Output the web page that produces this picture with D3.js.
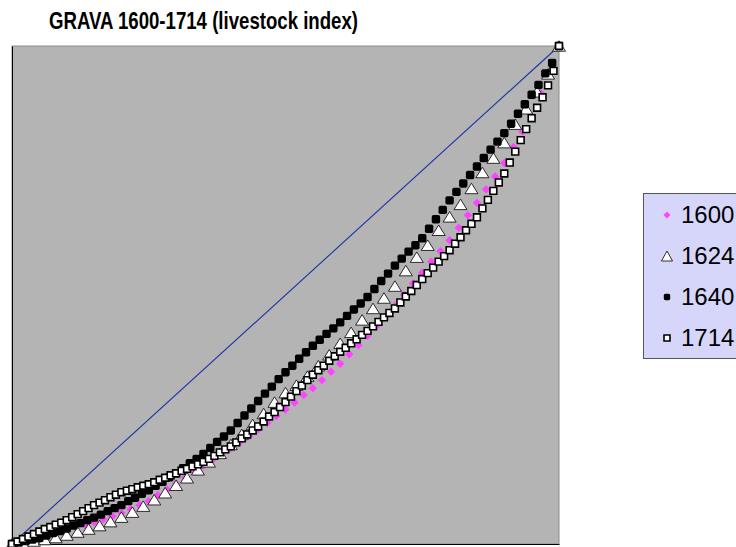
<!DOCTYPE html>
<html>
<head>
<meta charset="utf-8">
<script src="https://cdn.jsdelivr.net/npm/d3@7"></script>
<style>
  body { margin: 0; background: #fff; }
  svg { display: block; }
</style>
</head>
<body>
<div id="chart"></div>
<script>
// cumulative livestock share per cumulative household share (Lorenz curves)
var years = ["1600", "1624", "1640", "1714"];
var share1600 = [0, .004, .008, .012, .017, .022, .027, .033, .038, .044, .050, .056, .062, .070, .078, .086,
    .098, .109, .121, .133, .145, .157, .169, .180, .192, .205, .217, .230, .243, .257, .270, .284, .299,
    .313, .329, .346, .362, .381, .399, .418, .438, .458, .478, .500, .523, .545, .567, .588, .610, .635,
    .660, .685, .712, .738, .765, .797, .828, .860, .905, .950, 1];
var share1624 = [0, .003, .006, .009, .013, .018, .024, .030, .037, .045, .054, .064, .076, .089, .103, .118,
    .133, .149, .165, .182, .200, .220, .240, .262, .285, .304, .319, .337, .358, .380, .403, .425, .450,
    .473, .494, .518, .549, .576, .600, .630, .657, .682, .714, .746, .775, .806, .843, .874, .908, .944, 1];
var share1640 = [0, .003, .006, .009, .012, .017, .022, .026, .031, .037, .042, .048, .053, .059, .066, .072,
    .078, .086, .093, .101, .108, .117, .125, .134, .142, .152, .162, .171, .181, .193, .205, .216, .228,
    .243, .258, .272, .287, .302, .316, .331, .345, .358, .372, .385, .398, .410, .422, .433, .445, .458,
    .471, .483, .496, .512, .528, .543, .559, .573, .587, .600, .614, .633, .652, .671, .690, .707, .724,
    .741, .758, .775, .792, .808, .825, .844, .864, .883, .902, .922, .945, .966, 1];
var share1714 = [0, .005, .010, .015, .020, .025, .030, .034, .039, .043, .048, .054, .060, .066, .072, .078,
    .083, .088, .094, .099, .104, .107, .110, .114, .117, .120, .124, .129, .133, .138, .142, .147, .151,
    .156, .160, .165, .171, .177, .184, .190, .196, .204, .212, .220, .228, .236, .246, .256, .265, .275,
    .285, .296, .307, .318, .329, .340, .349, .358, .368, .377, .386, .394, .403, .411, .420, .428, .437,
    .446, .455, .464, .473, .485, .497, .508, .520, .532, .544, .555, .567, .578, .590, .603, .616, .630,
    .643, .656, .674, .691, .709, .726, .744, .766, .788, .811, .833, .855, .876, .897, .921, .950, 1];
var equality = [0, 1];

var width = 736;
var height = 547;
var plot = { left: 12, top: 46, right: 559, bottom: 544 };

var svg = d3.select("#chart")
    .append("svg")
    .attr("width", width)
    .attr("height", height)
    .style("font-family", "'Liberation Sans', Arial, sans-serif");

var xScale = d3.scaleLinear().domain([0, 1]).range([plot.left, plot.right]);
var yScale = d3.scaleLinear().domain([0, 1]).range([plot.bottom, plot.top]);

// plot area
svg.append("rect")
    .attr("x", plot.left)
    .attr("y", plot.top)
    .attr("width", plot.right - plot.left)
    .attr("height", plot.bottom - plot.top)
    .attr("fill", "#b4b4b4")
    .attr("stroke", "#8c8c8c")
    .attr("stroke-width", 1);

// axes without ticks
var xAxis = d3.axisBottom(xScale).tickValues([]).tickSizeOuter(0);
var yAxis = d3.axisLeft(yScale).tickValues([]).tickSizeOuter(0);
svg.append("g")
    .attr("transform", "translate(0," + plot.bottom + ")")
    .call(xAxis)
    .select(".domain").attr("stroke", "#000");
svg.append("g")
    .attr("transform", "translate(" + plot.left + ",0)")
    .call(yAxis)
    .select(".domain").attr("stroke", "#000");

// marker shapes
function diamond(s) {
    return "M0," + (-s) + "L" + s + ",0L0," + s + "L" + (-s) + ",0Z";
}
function triangle(w, h) {
    return "M0," + (-h / 2) + "L" + (w / 2) + "," + (h / 2) + "L" + (-w / 2) + "," + (h / 2) + "Z";
}
function square(s) {
    return "M" + (-s) + "," + (-s) + "h" + (2 * s) + "v" + (2 * s) + "h" + (-2 * s) + "Z";
}
function roundSquare(s, r) {
    return "M" + (-s + r) + "," + (-s) + "H" + (s - r) + "Q" + s + "," + (-s) + " " + s + "," + (-s + r) +
        "V" + (s - r) + "Q" + s + "," + s + " " + (s - r) + "," + s +
        "H" + (-s + r) + "Q" + (-s) + "," + s + " " + (-s) + "," + (s - r) +
        "V" + (-s + r) + "Q" + (-s) + "," + (-s) + " " + (-s + r) + "," + (-s) + "Z";
}

var styles = [
    { path: diamond(4.2), legendPath: diamond(3.5), fill: "#ff44ff", stroke: "none", sw: 0 },
    { path: triangle(13, 10.5), legendPath: triangle(11, 10), fill: "#fff", stroke: "#000", sw: 0.8 },
    { path: roundSquare(4.2, 1.8), legendPath: roundSquare(3.2, 1.6), fill: "#000", stroke: "none", sw: 0 },
    { path: square(3.4), legendPath: square(3), fill: "#fff", stroke: "#000", sw: 1.6 }
];
var seriesData = [share1600, share1624, share1640, share1714];

// equality line
var line = d3.line()
    .x(function (d, i) { return xScale(i / (equality.length - 1)); })
    .y(function (d) { return yScale(d); });
svg.append("path")
    .datum(equality)
    .attr("d", line)
    .attr("fill", "none")
    .attr("stroke", "#1c2fa8")
    .attr("stroke-width", 1.1);

seriesData.forEach(function (data, k) {
    var st = styles[k];
    var n = data.length - 1;
    svg.append("g")
        .selectAll("path")
        .data(data)
        .enter()
        .append("path")
        .attr("d", st.path)
        .attr("transform", function (d, i) {
            return "translate(" + xScale(i / n) + "," + yScale(d) + ")";
        })
        .attr("fill", st.fill)
        .attr("stroke", st.stroke)
        .attr("stroke-width", st.sw);
});

// title
svg.append("text")
    .attr("x", 49)
    .attr("y", 29)
    .attr("textLength", 309)
    .attr("lengthAdjust", "spacingAndGlyphs")
    .attr("font-size", 24)
    .attr("font-weight", "bold")
    .text("GRAVA 1600-1714 (livestock index)");

// legend
var legend = svg.append("g");
legend.append("rect")
    .attr("x", 643.5)
    .attr("y", 193.5)
    .attr("width", 120)
    .attr("height", 165)
    .attr("fill", "#d6d6fa")
    .attr("stroke", "#555");

years.forEach(function (y, k) {
    var st = styles[k];
    var base = 223 + k * 41;
    legend.append("path")
        .attr("d", st.legendPath)
        .attr("transform", "translate(667," + (base - 8) + ")")
        .attr("fill", st.fill)
        .attr("stroke", st.stroke)
        .attr("stroke-width", st.sw);
    legend.append("text")
        .attr("x", 681)
        .attr("y", base)
        .attr("font-size", 24)
        .text(y);
});
</script>
</body>
</html>
